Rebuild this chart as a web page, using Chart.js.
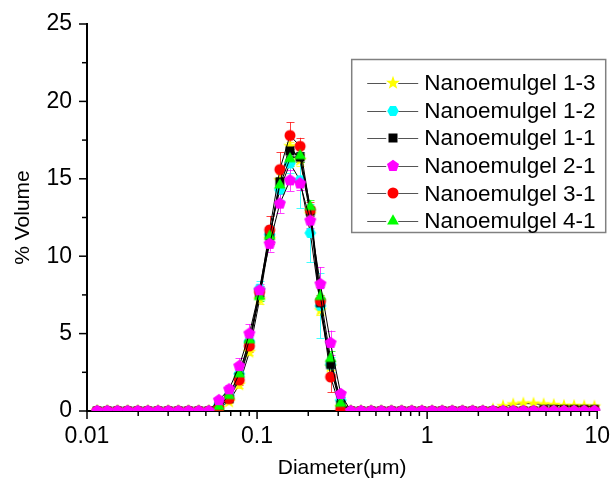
<!DOCTYPE html>
<html><head><meta charset="utf-8">
<script src="https://cdn.jsdelivr.net/npm/chart.js@4/dist/chart.umd.min.js"></script>
<style>html,body{margin:0;padding:0;background:#fff}canvas{display:block}</style>
</head><body>
<canvas id="c" width="614" height="486"></canvas>
<script>
// ---- data ----
const DIAMETERS = [0.01147,0.01316,0.01510,0.01733,0.01988,0.02280,0.02616,0.03002,0.03444,0.03951,
0.04533,0.05200,0.05966,0.06845,0.07856,0.09010,0.1034,0.1186,0.1361,0.1561,
0.1791,0.2055,0.2357,0.2705,0.3103,0.3560,0.4084,0.4686,0.5376,0.6167,
0.7076,0.8118,0.9313,1.069,1.226,1.406,1.614,1.851,2.124,2.437,
2.795,3.207,3.679,4.221,4.843,5.556,6.374,7.313,8.389,9.627];

const SERIES_LABELS = ['Nanoemulgel 1-3','Nanoemulgel 1-2','Nanoemulgel 1-1','Nanoemulgel 2-1','Nanoemulgel 3-1','Nanoemulgel 4-1'];

const NE_1_3 = [0,0,0,0,0,0,0,0,0,0,0,0, 0.2,0.6,1.7,3.8,7.2,11.1,14.9,17.1,16.2,12.7,6.5,2.85,0.25, 0,0,0,0,0,0,0,0,0,0,0,0,0,0, 0.1,0.3,0.42,0.48,0.47,0.42,0.38,0.33,0.32,0.3,0.28];
const NE_1_2 = [0,0,0,0,0,0,0,0,0,0,0,0, 0.4,1.0,2.4,4.5,7.9,11.4,14.3,16.0,14.9,11.5,6.8,3.0,0.7, 0,0,0,0,0,0,0,0,0,0,0,0,0,0,0,0,0,0,0,0,0,0,0,0,0];
const NE_1_1 = [0,0,0,0,0,0,0,0,0,0,0,0, 0.3,0.8,2.2,4.3,7.6,11.3,14.8,16.8,16.4,12.9,7.0,3.0,0.4, 0,0,0,0,0,0,0,0,0,0,0,0,0,0,0,0,0,0,0, 0.1,0.1,0.1,0.1,0.1,0.1];
const NE_2_1 = [0,0,0,0,0,0,0,0,0,0,0,0, 0.7,1.4,2.9,5.0,7.8,10.8,13.4,14.9,14.7,12.3,8.2,4.4,1.1, 0,0,0,0,0,0,0,0,0,0,0,0,0,0,0,0,0,0,0,0,0,0,0,0,0];
const NE_3_1 = [0,0,0,0,0,0,0,0,0,0,0,0, 0.2,0.8,2.0,4.2,7.7,11.7,15.6,17.8,17.1,13.0,7.1,2.2,0.1, 0,0,0,0,0,0,0,0,0,0,0,0,0,0,0,0,0,0,0,0,0,0,0,0,0];
const NE_4_1 = [0,0,0,0,0,0,0,0,0,0,0,0, 0.3,1.0,2.4,4.6,7.4,11.3,14.6,16.3,16.5,13.2,7.4,3.4,0.5, 0,0,0,0,0,0,0,0,0,0,0,0,0,0,0,0,0,0,0,0,0,0,0,0,0];

const ERR_1_3 = [0,0,0,0,0,0,0,0,0,0,0,0, 0.1,0.1,0.2,0.2,0.3,0.3,0.4,0.3,0.4,0.3,0.3,0.2,0.1, 0,0,0,0,0,0,0,0,0,0,0,0,0,0,0,0,0,0,0,0,0,0,0,0,0];
const ERR_1_2 = [0,0,0,0,0,0,0,0,0,0,0,0, 0.1,0.2,0.3,0.4,0.5,0.6,0.7,0.6,1.8,1.9,2.1,0.5,0.2, 0,0,0,0,0,0,0,0,0,0,0,0,0,0,0,0,0,0,0,0,0,0,0,0,0];
const ERR_1_1 = [0,0,0,0,0,0,0,0,0,0,0,0, 0.1,0.1,0.2,0.2,0.3,0.3,0.3,0.3,0.3,0.3,0.3,0.2,0.1, 0,0,0,0,0,0,0,0,0,0,0,0,0,0,0,0,0,0,0,0,0,0,0,0,0];
const ERR_2_1 = [0,0,0,0,0,0,0,0,0,0,0,0, 0.2,0.3,0.5,0.6,0.4,0.5,0.6,0.7,0.4,0.5,1.1,0.8,0.2, 0,0,0,0,0,0,0,0,0,0,0,0,0,0,0,0,0,0,0,0,0,0,0,0,0];
const ERR_3_1 = [0,0,0,0,0,0,0,0,0,0,0,0, 0.1,0.2,0.3,0.4,0.4,0.9,1.1,0.85,0.55,0.5,0.4,1.0,0.1, 0,0,0,0,0,0,0,0,0,0,0,0,0,0,0,0,0,0,0,0,0,0,0,0,0];
const ERR_4_1 = [0,0,0,0,0,0,0,0,0,0,0,0, 0.1,0.2,0.2,0.3,0.3,0.4,0.5,0.5,0.4,0.4,0.6,0.5,0.2, 0,0,0,0,0,0,0,0,0,0,0,0,0,0,0,0,0,0,0,0,0,0,0,0,0];

const X_TICKS = [0.01, 0.1, 1, 10];
const X_TICK_LABELS = ['0.01', '0.1', '1', '10'];
const X_MINOR = [0.02,0.03,0.04,0.05,0.06,0.07,0.08,0.09,0.2,0.3,0.4,0.5,0.6,0.7,0.8,0.9,2,3,4,5,6,7,8,9];
const Y_TICKS = [0, 5, 10, 15, 20, 25];
const Y_MINOR = [2.5, 7.5, 12.5, 17.5, 22.5];

// ---- styling ----
const FONT = "'Liberation Sans', Arial, sans-serif";
const COLORS = ['#ffff00', '#00ffff', '#000000', '#ff00ff', '#ff0000', '#00ff00'];
const SHAPES = ['star', 'hexagon', 'square', 'pentagon', 'circle', 'triangle'];
const DRAW_ORDER = [5, 4, 3, 0, 2, 1]; // lower = drawn on top

function makeMarker(shape, color) {
  const S = 16, c = document.createElement('canvas');
  c.width = S; c.height = S;
  const g = c.getContext('2d');
  g.translate(S / 2, S / 2);
  g.fillStyle = color;
  g.beginPath();
  const poly = (n, r, a0) => {
    for (let i = 0; i < n; i++) {
      const a = a0 + i * 2 * Math.PI / n;
      const px = r * Math.cos(a), py = r * Math.sin(a);
      i ? g.lineTo(px, py) : g.moveTo(px, py);
    }
    g.closePath();
  };
  if (shape === 'circle') g.arc(0, 0, 5.5, 0, Math.PI * 2);
  else if (shape === 'square') g.rect(-4.5, -4.5, 9, 9);
  else if (shape === 'triangle') poly(3, 6.8, -Math.PI / 2);
  else if (shape === 'pentagon') poly(5, 6.3, -Math.PI / 2);
  else if (shape === 'hexagon') poly(6, 5.8, 0);
  else if (shape === 'star') {
    for (let i = 0; i < 10; i++) {
      const r = i % 2 ? 2.9 : 7.2;
      const a = -Math.PI / 2 + i * Math.PI / 5;
      const px = r * Math.cos(a), py = r * Math.sin(a);
      i ? g.lineTo(px, py) : g.moveTo(px, py);
    }
    g.closePath();
  }
  g.fill();
  return c;
}

const VALUES = [NE_1_3, NE_1_2, NE_1_1, NE_2_1, NE_3_1, NE_4_1];
const ERRORS = [ERR_1_3, ERR_1_2, ERR_1_1, ERR_2_1, ERR_3_1, ERR_4_1];
const MARKERS = SHAPES.map((s, i) => makeMarker(s, COLORS[i]));

const datasets = SERIES_LABELS.map((label, i) => ({
  label,
  data: DIAMETERS.map((d, k) => ({ x: d, y: VALUES[i][k] })),
  errors: ERRORS[i],
  color: COLORS[i],
  borderColor: '#000',
  borderWidth: 1,
  pointStyle: MARKERS[i],
  pointRadius: 5,
  pointHoverRadius: 5,
  order: DRAW_ORDER[i],
  tension: 0,
  fill: false,
  clip: { left: 0, top: 0, right: 8, bottom: 0 }
}));

function hexA(hex, a) {
  const n = parseInt(hex.slice(1), 16);
  return `rgba(${n >> 16},${(n >> 8) & 255},${n & 255},${a})`;
}

const errorBars = {
  id: 'errorBars',
  beforeDatasetsDraw(chart) {
    const { ctx, scales: { x, y }, chartArea: a } = chart;
    ctx.save();
    ctx.beginPath(); ctx.rect(a.left, a.top, a.right - a.left, a.bottom - a.top); ctx.clip();
    ctx.lineWidth = 1;
    chart.data.datasets.forEach(ds => {
      ctx.strokeStyle = ds.color === '#000000' ? 'rgba(0,0,0,0.7)' : hexA(ds.color, 0.75);
      ds.data.forEach((p, k) => {
        const e = ds.errors[k];
        if (!e) return;
        const px = Math.round(x.getPixelForValue(p.x)) + 0.5;
        const y1 = y.getPixelForValue(p.y - e), y2 = y.getPixelForValue(p.y + e);
        ctx.beginPath();
        ctx.moveTo(px, y1); ctx.lineTo(px, y2);
        ctx.moveTo(px - 4, Math.round(y1) + 0.5); ctx.lineTo(px + 4, Math.round(y1) + 0.5);
        ctx.moveTo(px - 4, Math.round(y2) + 0.5); ctx.lineTo(px + 4, Math.round(y2) + 0.5);
        ctx.stroke();
      });
    });
    ctx.restore();
  }
};

const tickMarks = {
  id: 'tickMarks',
  afterDraw(chart) {
    const { ctx, scales: { x, y }, chartArea: a } = chart;
    ctx.save();
    ctx.strokeStyle = '#000';
    ctx.lineWidth = 1.5;
    const xt = (v, len) => {
      const px = x.getPixelForValue(v);
      ctx.beginPath(); ctx.moveTo(px, a.bottom); ctx.lineTo(px, a.bottom + len); ctx.stroke();
    };
    const yt = (v, len) => {
      const py = y.getPixelForValue(v);
      ctx.beginPath(); ctx.moveTo(a.left, py); ctx.lineTo(a.left - len, py); ctx.stroke();
    };
    X_TICKS.forEach(v => xt(v, 8));
    X_MINOR.forEach(v => xt(v, 5));
    Y_TICKS.forEach(v => yt(v, 8));
    Y_MINOR.forEach(v => yt(v, 5));
    ctx.restore();
  }
};

const boxLegend = {
  id: 'boxLegend',
  afterDraw(chart) {
    const { ctx, chartArea: a } = chart;
    const bx = a.right - 246, by = a.top + 35.5, bw = 254, bh = 173;
    ctx.save();
    ctx.strokeStyle = '#808080';
    ctx.lineWidth = 1.5;
    ctx.strokeRect(bx + 0.5, by, bw, bh);
    ctx.font = `22.5px ${FONT}`;
    ctx.textBaseline = 'middle';
    ctx.fillStyle = '#000';
    chart.data.datasets.forEach((ds, i) => {
      const cy = by + 23.5 + i * 27.6;
      ctx.strokeStyle = '#555';
      ctx.lineWidth = 1;
      ctx.beginPath();
      ctx.moveTo(bx + 16, Math.round(cy) + 0.5); ctx.lineTo(bx + 67, Math.round(cy) + 0.5);
      ctx.stroke();
      const m = ds.pointStyle;
      ctx.fillStyle = '#fff';
      ctx.fillRect(bx + 35, cy - 6, 12, 12);
      ctx.drawImage(m, Math.round(bx + 41.5 - m.width / 2), Math.round(cy - m.height / 2));
      ctx.fillStyle = '#000';
      ctx.fillText(ds.label, bx + 73, cy + 1);
    });
    ctx.restore();
  }
};

new Chart(document.getElementById('c'), {
  type: 'line',
  data: { datasets },
  options: {
    responsive: false,
    animation: false,
    devicePixelRatio: 1,
    layout: { padding: { left: 0, right: 14, top: 24, bottom: 0 } },
    plugins: { legend: { display: false }, tooltip: { enabled: false } },
    scales: {
      x: {
        type: 'logarithmic',
        min: 0.01, max: 10,
        afterBuildTicks(s) { s.ticks = X_TICKS.map(v => ({ value: v, major: true })); },
        afterFit(s) { s.height = 75; },
        grid: { display: false, drawTicks: true, tickLength: 8 },
        border: { display: true, color: '#000', width: 2 },
        ticks: {
          autoSkip: false, maxRotation: 0, padding: 4, color: '#000',
          font: { family: FONT, size: 23 },
          callback: (v, i) => X_TICK_LABELS[i]
        },
        title: { display: true, text: 'Diameter(μm)', color: '#000', font: { family: FONT, size: 21 }, padding: { top: 0, bottom: 5 } }
      },
      y: {
        min: 0, max: 25,
        afterBuildTicks(s) { s.ticks = Y_TICKS.map(v => ({ value: v })); },
        afterFit(s) { s.width = 87; },
        grid: { display: false, drawTicks: true, tickLength: 8 },
        border: { display: true, color: '#000', width: 2 },
        ticks: { padding: 7, color: '#000', font: { family: FONT, size: 23 } },
        title: { display: true, text: '% Volume', color: '#000', font: { family: FONT, size: 21 }, padding: { top: 11, bottom: 0 } }
      }
    }
  },
  plugins: [errorBars, tickMarks, boxLegend]
});
</script>
</body></html>
